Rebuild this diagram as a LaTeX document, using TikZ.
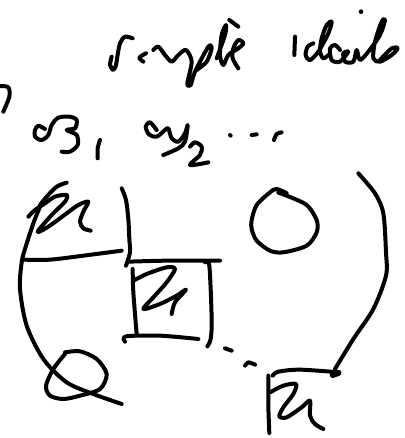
\documentclass[tikz,border=0pt]{standalone}
\usepackage{tikz}

\tikzset{ink/.style={black, line width=4pt, line cap=round, line join=round}}

\begin{document}
\begin{tikzpicture}[x=0.33333pt, y=-0.33333pt]
  \useasboundingbox (0,0) rectangle (1215,1314);

  % simple
  \begin{scope}[shift={(300,45)}]
    \draw[ink] plot[smooth] coordinates {(98,70) (75,65) (60,85) (52,125) (48,150) (40,165) (30,150) (35,125)};
    \draw[ink] plot[smooth] coordinates {(138,115) (118,128) (130,140)};
    \draw[ink] plot[smooth] coordinates {(160,105) (175,95) (195,120) (215,140) (235,120) (258,105) (275,140) (262,205) (272,210) (285,170) (325,95) (335,100) (320,140) (290,165)};
    \draw[ink] plot[smooth] coordinates {(350,130) (375,60) (378,30) (365,60) (360,120) (370,150) (385,120) (415,100) (430,85) (415,75) (400,100) (398,130) (415,160)};
    \draw[ink] (388,15) -- (415,35);
  \end{scope}

  % ideals
  \begin{scope}[shift={(855,15)}]
    \draw[ink] (30,95) -- (28,150);
    \draw[ink] plot[smooth] coordinates {(85,115) (68,125) (62,150) (75,165) (100,140) (130,85) (140,50) (125,60) (110,100) (105,140) (115,160) (130,150)};
    \draw[ink] plot[smooth] coordinates {(165,135) (150,120) (135,130) (140,165) (165,170) (190,140) (175,145) (180,170) (205,170) (215,135) (225,165) (250,140) (285,90) (300,45) (290,50) (270,110) (265,160) (285,170) (320,150) (338,130) (320,130) (285,165)};
    \fill[black] (228,20) circle (7);
  \end{scope}

  % top left mark
  \draw[ink] plot[smooth] coordinates {(0,258) (25,262) (28,290) (10,335)};

  % first subscripted letter
  \begin{scope}[shift={(75,315)}]
    \draw[ink] plot[smooth] coordinates {(60,72) (40,62) (30,75) (30,95) (50,105) (70,90) (80,60) (100,38) (135,35) (155,45) (150,70) (125,75) (155,90) (158,120) (135,140) (110,140)};
    \draw[ink] plot[smooth] coordinates {(225,105) (218,130) (218,160)};
    % second subscripted letter
    \draw[ink] plot[smooth] coordinates {(395,75) (375,52) (362,65) (372,88) (395,95) (420,75) (430,70) (440,100) (460,110) (480,85) (488,60) (480,110) (460,130) (415,150)};
    \draw[ink] plot[smooth] coordinates {(495,125) (510,112) (530,125) (525,150) (495,180) (550,172)};
  \end{scope}
  \draw[ink] (690,405) -- (692,407);
  \draw[ink] (755,405) -- (770,403);
  \draw[ink] plot[smooth] coordinates {(822,420) (830,402) (845,397)};

  % first block
  \begin{scope}[shift={(75,510)}]
    \draw[ink] plot[smooth] coordinates {(125,38) (95,50) (65,80) (45,105)};
    \draw[ink] plot[smooth] coordinates {(10,140) (30,120) (60,100) (90,80) (125,75) (120,95) (80,135) (38,185) (70,170) (125,130) (160,105) (190,95) (175,125) (165,155) (175,175) (197,182)};
  \end{scope}
  \draw[ink] plot[smooth] coordinates {(120,620) (100,670) (75,747) (65,787) (60,867) (80,977) (130,1077) (200,1147) (280,1182) (365,1212)};
  \draw[ink] plot[smooth] coordinates {(365,565) (378,600) (385,657) (388,717) (390,757) (378,797)};
  \draw[ink] plot[smooth] coordinates {(72,779) (150,779) (250,767) (365,752)};

  % circle block
  \draw[ink] plot[smooth] coordinates {(860,580) (830,567) (810,577) (770,615) (755,660) (755,687) (770,722) (810,752) (850,757) (920,737) (950,697) (950,660) (920,615) (860,587) (835,578)};

  % right arc
  \draw[ink] plot[smooth] coordinates {(1075,520) (1125,580) (1150,640) (1158,757) (1158,827) (1120,927) (1060,1017) (1005,1107)};

  \begin{scope}[shift={(0,657)}]
    % middle block
    \draw[ink] plot[smooth] coordinates {(385,128) (500,125) (660,125)};
    \draw[ink] plot[smooth] coordinates {(398,150) (400,220) (410,345)};
    \draw[ink] plot[smooth] coordinates {(400,185) (440,165) (500,145) (525,150) (500,190) (460,235) (430,270) (480,255) (530,230) (558,212) (525,250) (515,285)};
    \draw[ink] plot[smooth] coordinates {(375,368) (378,352) (480,350) (595,360)};
    \draw[ink] plot[smooth] coordinates {(615,130) (628,140) (635,300) (632,360) (622,382)};
    \draw[ink] (675,388) -- (695,395);
    \draw[ink] plot[smooth] coordinates {(735,440) (745,430) (765,437)};

    % last block
    \draw[ink] plot[smooth] coordinates {(818,470) (835,458) (900,452) (1018,460)};
    \draw[ink, line width=6pt] (998,468) -- (1015,462);
    \draw[ink] plot[smooth] coordinates {(805,470) (805,560) (808,642)};
    \draw[ink] plot[smooth] coordinates {(810,520) (850,500) (888,495) (880,525) (850,565) (838,592) (860,595) (905,565) (930,545) (930,590) (945,615) (970,630)};

    % loop at the bottom
    \draw[ink] plot[smooth] coordinates {(195,400) (240,397) (290,420) (320,465) (300,510) (240,530) (190,540) (150,530) (138,500) (160,450) (195,405)};
  \end{scope}
\end{tikzpicture}
\end{document}
